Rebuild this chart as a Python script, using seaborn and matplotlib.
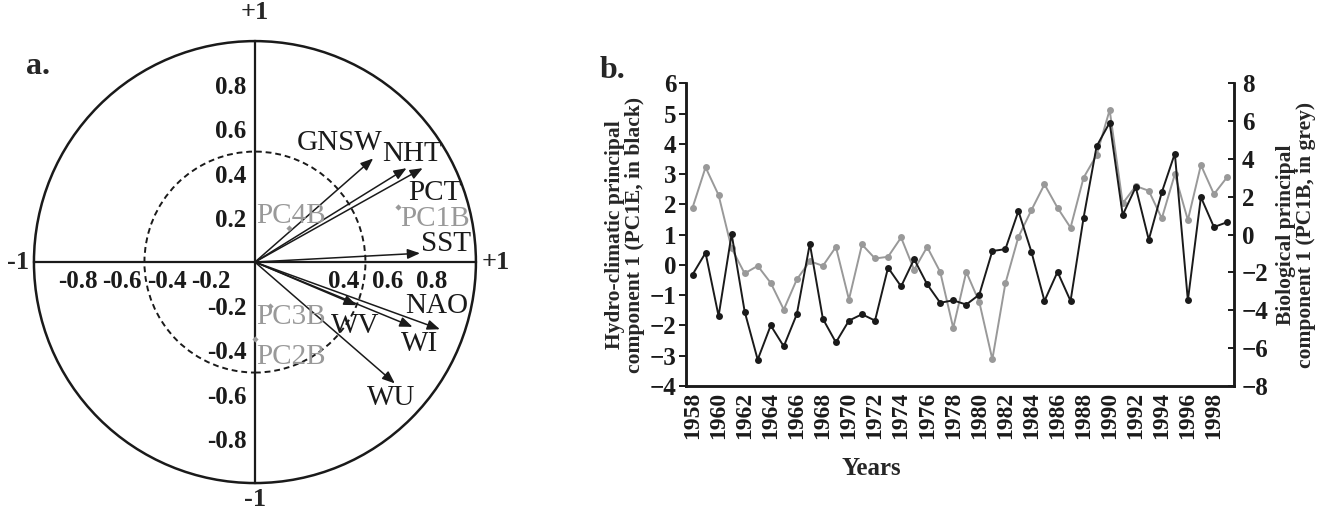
import matplotlib
matplotlib.use("Agg")
from matplotlib import pyplot as plt
from matplotlib.patches import Circle
import seaborn as sns

# panel a: correlation circle (loadings on the first two axes)
var_names = ["GNSW", "NHT", "PCT", "SST", "NAO", "WV", "WI", "WU"]
var_x = [0.535, 0.686, 0.759, 0.747, 0.837, 0.46, 0.713, 0.633]
var_y = [0.469, 0.425, 0.425, 0.04, -0.304, -0.195, -0.293, -0.549]

bio_names = ["PC1B", "PC2B", "PC3B", "PC4B"]
bio_x = [0.648, 0.0, 0.068, 0.155]
bio_y = [0.251, -0.35, -0.198, 0.153]

circle_ticks = [-0.8, -0.6, -0.4, -0.2, 0.2, 0.4, 0.6, 0.8]
x_tick_labels = ["-0.8", "-0.6", "-0.4", "-0.2", "", "0.4", "0.6", "0.8"]
y_tick_labels = ["-0.8", "-0.6", "-0.4", "-0.2", "0.2", "0.4", "0.6", "0.8"]

# panel b: yearly principal components
years = list(range(1958, 2000))
pc1e = [-0.32, 0.40, -1.69, 1.02, -1.54, -3.13, -2.0, -2.69, -1.63, 0.70,
        -1.78, -2.56, -1.84, -1.63, -1.84, -0.09, -0.71, 0.19, -0.64, -1.25,
        -1.17, -1.31, -0.98, 0.46, 0.52, 1.78, 0.43, -1.19, -0.23, -1.19,
        1.56, 3.92, 4.70, 1.65, 2.57, 0.83, 2.40, 3.68, -1.17, 2.24,
        1.25, 1.41]
pc1b = [1.42, 3.56, 2.09, -0.73, -2.05, -1.65, -2.55, -3.96, -2.37, -1.40,
        -1.65, -0.65, -3.43, -0.52, -1.26, -1.17, -0.15, -1.86, -0.65, -1.97,
        -4.93, -1.97, -3.56, -6.59, -2.58, -0.12, 1.30, 2.66, 1.42, 0.37,
        3.01, 4.21, 6.59, 1.65, 2.57, 2.32, 0.86, 3.19, 0.77, 3.68,
        2.14, 3.03]

# label placement (layout only)
var_label_pos = [(0.385, 0.540), (0.713, 0.489), (0.814, 0.314), (0.866, 0.083),
                 (0.821, -0.20), (0.452, -0.29), (0.747, -0.371), (0.618, -0.617)]
bio_label_pos = [(0.814, 0.196), (0.165, -0.43), (0.165, -0.25), (0.165, 0.208)]

BLACK = "#1a1a1a"
GREY = "#999999"

sns.set_style("white")
plt.rcParams["font.family"] = ["Liberation Serif", "DejaVu Serif"]
plt.rcParams["axes.linewidth"] = 1.6
plt.rcParams["xtick.color"] = BLACK
plt.rcParams["ytick.color"] = BLACK

fig = plt.figure(figsize=(13.27, 5.14), dpi=100)

# ---------- a. ----------
ax1 = fig.add_axes([5 / 1327, 0, 535 / 1327, 1])
ax1.set_xlim(-1.131, 1.29)
ax1.set_ylim(-1.140, 1.186)
for side in ["top", "right"]:
    ax1.spines[side].set_visible(False)
ax1.spines["left"].set_position(("data", 0))
ax1.spines["bottom"].set_position(("data", 0))
ax1.spines["left"].set_bounds(-1, 1)
ax1.spines["bottom"].set_bounds(-1, 1)
for side in ["left", "bottom"]:
    ax1.spines[side].set_color(BLACK)
    ax1.spines[side].set_linewidth(1.6)
ax1.set_xticks(circle_ticks, x_tick_labels)
ax1.set_yticks(circle_ticks, y_tick_labels)
ax1.tick_params(direction="out", length=4, width=1.2, labelsize=18, pad=2)
for lab in ax1.get_xticklabels() + ax1.get_yticklabels():
    lab.set_fontweight("bold")

ax1.add_patch(Circle((0, 0), 1, fill=False, lw=1.8, color=BLACK))
ax1.add_patch(Circle((0, 0), 0.5, fill=False, lw=1.4, color=BLACK, ls=(0, (3, 2))))

for name, x, y, (lx, ly) in zip(var_names, var_x, var_y, var_label_pos):
    ax1.annotate("", xy=(x, y), xytext=(0, 0),
                 arrowprops=dict(arrowstyle="-|>,head_length=0.75,head_width=0.3",
                                 color=BLACK, lw=1.1, shrinkA=0, shrinkB=0))
    ax1.text(lx, ly, name, fontsize=21, ha="center", va="center", color=BLACK)

sns.scatterplot(x=bio_x, y=bio_y, ax=ax1, color=GREY, marker="D", s=10,
                linewidth=0, zorder=5)
for name, (lx, ly) in zip(bio_names, bio_label_pos):
    ax1.text(lx, ly, name, fontsize=21, ha="center", va="center", color=GREY)

ax1.text(0, 1.128, "+1", fontsize=19, fontweight="bold", ha="center", va="center")
ax1.text(0, -1.076, "-1", fontsize=19, fontweight="bold", ha="center", va="center")
ax1.text(-1.072, 0, "-1", fontsize=19, fontweight="bold", ha="center", va="center")
ax1.text(1.092, 0, "+1", fontsize=19, fontweight="bold", ha="center", va="center")
ax1.text(-0.982, 0.883, "a.", fontsize=23, fontweight="bold", ha="center", va="center")

# ---------- b. ----------
ax2 = fig.add_axes([686 / 1327, 128 / 514, 547.5 / 1327, 302.7 / 514])
ax3 = ax2.twinx()

sns.lineplot(x=years, y=pc1b, ax=ax3, color=GREY, marker="o", markersize=5,
             markeredgewidth=0, linewidth=1.4)
sns.lineplot(x=years, y=pc1e, ax=ax2, color=BLACK, marker="o", markersize=5,
             markeredgewidth=0, linewidth=1.4)
ax2.set_zorder(ax3.get_zorder() + 1)
ax2.patch.set_visible(False)

ax2.set_xlim(1957.5, 1999.5)
ax2.set_ylim(-4, 6)
ax3.set_ylim(-8, 8)
ax2.set_yticks(range(-4, 7))
ax3.set_yticks(range(-8, 9, 2))
ax2.set_xticks(range(1958, 2000, 2))
ax2.set_xticks([y - 0.5 for y in years] + [1999.5], minor=True)

for a in (ax2, ax3):
    a.spines["top"].set_visible(False)
    for side in ["left", "right", "bottom"]:
        a.spines[side].set_color(BLACK)
        a.spines[side].set_linewidth(1.8)

ax2.tick_params(axis="y", direction="out", length=5, width=1.4, labelsize=18, pad=2)
ax3.tick_params(axis="y", direction="in", length=4, width=1.4, labelsize=18, pad=6)
ax2.tick_params(axis="x", which="major", length=0, labelsize=17, pad=4, rotation=90)
ax2.tick_params(axis="x", which="minor", direction="out", length=5, width=1.2)
for lab in ax2.get_xticklabels() + ax2.get_yticklabels() + ax3.get_yticklabels():
    lab.set_fontweight("bold")

ax2.set_xlabel("Years", fontsize=18, fontweight="bold")
ax2.xaxis.set_label_coords(0.338, -0.235)
ax2.set_ylabel("Hydro-climatic principal\ncomponent 1 (PC1E, in black)",
               fontsize=15.5, fontweight="bold", labelpad=3, linespacing=1.0)
ax3.set_ylabel("Biological principal\ncomponent 1 (PC1B, in grey)",
               fontsize=15.5, fontweight="bold", labelpad=5, linespacing=1.0)

fig.text(612 / 1327, 1 - 70 / 514, "b.", fontsize=23, fontweight="bold",
         ha="center", va="center")

plt.savefig("out.png", dpi=100)
